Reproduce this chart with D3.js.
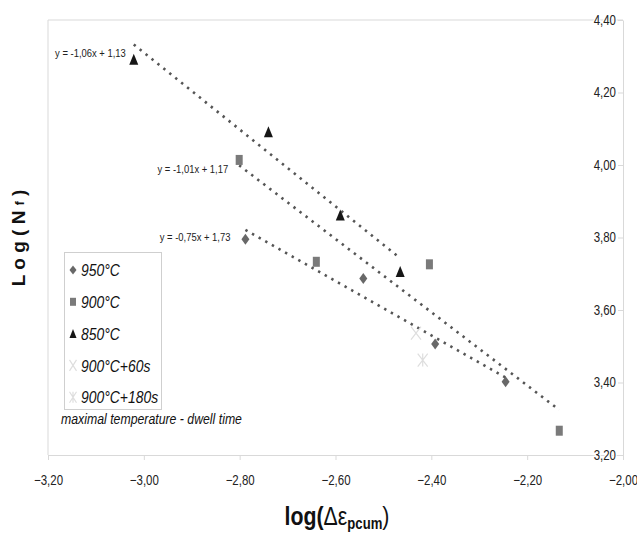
<!DOCTYPE html>
<html>
<head>
<meta charset="utf-8">
<script src="https://cdn.jsdelivr.net/npm/d3@7"></script>
<style>
  html, body { margin: 0; padding: 0; background: #fff; }
  svg { display: block; }
  text { font-family: "Liberation Sans", Arial, sans-serif; }
</style>
</head>
<body>
<svg id="chart" width="637" height="534"></svg>
<script>
// ---------- data ----------
const xTicks = [-3.2, -3.0, -2.8, -2.6, -2.4, -2.2, -2.0];
const yTicks = [3.2, 3.4, 3.6, 3.8, 4.0, 4.2, 4.4];

const seriesNames = ["950°C", "900°C", "850°C", "900°C+60s", "900°C+180s"];

const x950 = [-2.788, -2.542, -2.392, -2.245];
const y950 = [3.795, 3.687, 3.506, 3.402];

const x900 = [-2.801, -2.640, -2.404, -2.133];
const y900 = [4.014, 3.733, 3.726, 3.267];

const x850 = [-3.021, -2.740, -2.590, -2.465];
const y850 = [4.292, 4.092, 3.862, 3.706];

const x900_60 = [-2.432];
const y900_60 = [3.536];

const x900_180 = [-2.418];
const y900_180 = [3.462];

// trendline coefficients (slope, intercept) and labels
const trendSlopes = [-0.75, -1.01, -1.06];
const trendIntercepts = [1.73, 1.17, 1.13];
const trendLabels = ["y = -0,75x + 1,73", "y = -1,01x + 1,17", "y = -1,06x + 1,13"];

const legendNote = "maximal temperature - dwell time";

// ---------- drawing ----------
const svg = d3.select("#chart");
const mL = 48, mR = 623, mT = 20, mB = 455;
const x = d3.scaleLinear().domain([-3.2, -2.0]).range([mL, mR]);
const y = d3.scaleLinear().domain([3.2, 4.4]).range([mB, mT]);
const fmt = d => d3.format(".2f")(d).replace(".", ",");
const FRAME = "#d9d9d9";
const NARROW = 0.82;

// horizontally condense a text about its x anchor (emulates a narrow font)
function condense(sel, f) {
  sel.each(function () {
    const ax = +this.getAttribute("x") || 0;
    const prev = this.getAttribute("transform") || "";
    this.setAttribute("transform", `${prev} translate(${ax},0) scale(${f},1) translate(${-ax},0)`.trim());
  });
}

// frame
svg.append("line").attr("x1", mL).attr("x2", mR).attr("y1", mT).attr("y2", mT).attr("stroke", FRAME);
svg.append("line").attr("x1", mL).attr("x2", mL).attr("y1", mT).attr("y2", mB).attr("stroke", FRAME);

// x axis
const gx = svg.append("g").attr("transform", `translate(0,${mB})`)
  .call(d3.axisBottom(x).tickValues(xTicks).tickFormat(fmt).tickSize(5).tickSizeOuter(0).tickPadding(15));
gx.select(".domain").attr("stroke", FRAME);
gx.selectAll(".tick line").attr("stroke", FRAME);
gx.selectAll("text").attr("font-family", null).attr("font-size", 14).attr("fill", "#222").call(condense, NARROW);
gx.attr("font-family", null);

// y axis (on the right, labels inside)
const gy = svg.append("g").attr("transform", `translate(${mR},0)`)
  .call(d3.axisLeft(y).tickValues(yTicks).tickFormat(fmt).tickSize(5).tickSizeOuter(0).tickPadding(2));
gy.attr("font-family", null);
gy.select(".domain").attr("stroke", FRAME);
gy.selectAll(".tick line").attr("stroke", FRAME);
gy.selectAll("text").attr("font-size", 14).attr("fill", "#222")
  .attr("paint-order", "stroke").attr("stroke", "#fff").attr("stroke-width", 3)
  .call(condense, NARROW);

// trendlines
const seriesX = [x950, x900, x850];
const labelOffsets = [[-15, 7], [-11, 4], [-8, 8]];
seriesX.forEach((xs, i) => {
  const x0 = d3.min(xs), x1 = d3.max(xs);
  const f = v => trendSlopes[i] * v + trendIntercepts[i];
  svg.append("line")
    .attr("x1", x(x0)).attr("y1", y(f(x0)))
    .attr("x2", x(x1)).attr("y2", y(f(x1)))
    .attr("stroke", "#555").attr("stroke-width", 2.6)
    .attr("stroke-dasharray", "2.4,5.2");
  svg.append("text")
    .attr("x", x(x0) + labelOffsets[i][0]).attr("y", y(f(x0)) + labelOffsets[i][1])
    .attr("text-anchor", "end").attr("dy", "0.35em")
    .attr("font-size", 11.5).attr("fill", "#222")
    .text(trendLabels[i]).call(condense, NARROW);
});

// marker shapes
function diamond(g, cx, cy, w, h, color) {
  g.append("path").attr("d", `M${cx},${cy - h / 2}L${cx + w / 2},${cy}L${cx},${cy + h / 2}L${cx - w / 2},${cy}Z`).attr("fill", color);
}
function square(g, cx, cy, w, h, color) {
  g.append("rect").attr("x", cx - w / 2).attr("y", cy - h / 2).attr("width", w).attr("height", h).attr("fill", color);
}
function triangle(g, cx, cy, w, h, color) {
  g.append("path").attr("d", `M${cx},${cy - h / 2}L${cx + w / 2},${cy + h / 2}L${cx - w / 2},${cy + h / 2}Z`).attr("fill", color);
}
function xmark(g, cx, cy, w, h, color) {
  g.append("path").attr("d", `M${cx - w / 2},${cy - h / 2}L${cx + w / 2},${cy + h / 2}M${cx + w / 2},${cy - h / 2}L${cx - w / 2},${cy + h / 2}`)
    .attr("stroke", color).attr("stroke-width", 1.2).attr("fill", "none");
}
function star(g, cx, cy, w, h, color) {
  g.append("path").attr("d", `M${cx - w / 2},${cy - h / 2}L${cx + w / 2},${cy + h / 2}M${cx + w / 2},${cy - h / 2}L${cx - w / 2},${cy + h / 2}M${cx},${cy - h / 2}L${cx},${cy + h / 2}`)
    .attr("stroke", color).attr("stroke-width", 1.2).attr("fill", "none");
}

const C950 = "#686868", C900 = "#7a7a7a", C850 = "#161616", CFAINT = "#dedede";
const marks = svg.append("g");
x950.forEach((v, i) => diamond(marks, x(v), y(y950[i]), 8, 11, C950));
x900.forEach((v, i) => square(marks, x(v), y(y900[i]), 7, 10, C900));
x850.forEach((v, i) => triangle(marks, x(v), y(y850[i]), 9, 11, C850));
x900_60.forEach((v, i) => xmark(marks, x(v), y(y900_60[i]), 10, 13, CFAINT));
x900_180.forEach((v, i) => star(marks, x(v), y(y900_180[i]), 10, 13, CFAINT));

// legend
const lg = svg.append("g");
lg.append("rect").attr("x", 64.5).attr("y", 252.5).attr("width", 97).attr("height", 157)
  .attr("fill", "#fff").attr("stroke", "#cfcfcf");
const legendShapes = [
  (g, cx, cy) => diamond(g, cx, cy, 7, 9, C950),
  (g, cx, cy) => square(g, cx, cy, 6, 8, C900),
  (g, cx, cy) => triangle(g, cx, cy, 7, 9, C850),
  (g, cx, cy) => xmark(g, cx, cy, 7, 11, CFAINT),
  (g, cx, cy) => star(g, cx, cy, 7, 11, CFAINT)
];
seriesNames.forEach((name, i) => {
  const cy = 270 + i * 31.8;
  legendShapes[i](lg, 73, cy);
  lg.append("text").attr("x", 81).attr("y", cy).attr("dy", "0.36em")
    .attr("font-size", 17).attr("font-style", "italic").attr("fill", "#111").text(name)
    .call(condense, NARROW);
});
svg.append("text").attr("x", 61).attr("y", 424)
  .attr("font-size", 15).attr("font-style", "italic").attr("fill", "#111").text(legendNote)
  .call(condense, NARROW);

// y title
const yt = svg.append("text")
  .attr("transform", "translate(25,238) rotate(-90)")
  .attr("text-anchor", "middle")
  .attr("font-weight", "bold").attr("font-size", 19).attr("fill", "#111");
yt.append("tspan").text("L o g ( N ");
yt.append("tspan").attr("font-size", 12).attr("dy", -1).text("f");
yt.append("tspan").attr("dy", 1).text(" )");

// x title
const xt = svg.append("text")
  .attr("x", 337).attr("y", 525).attr("text-anchor", "middle")
  .attr("font-weight", "bold").attr("font-size", 26).attr("fill", "#111");
xt.append("tspan").text("log(");
xt.append("tspan").attr("font-weight", "normal").text("Δε");
xt.append("tspan").attr("font-size", 16).attr("dy", 4).text("pcum");
xt.append("tspan").attr("dy", -4).attr("font-weight", "normal").text(")");
xt.call(condense, NARROW);
</script>
</body>
</html>
